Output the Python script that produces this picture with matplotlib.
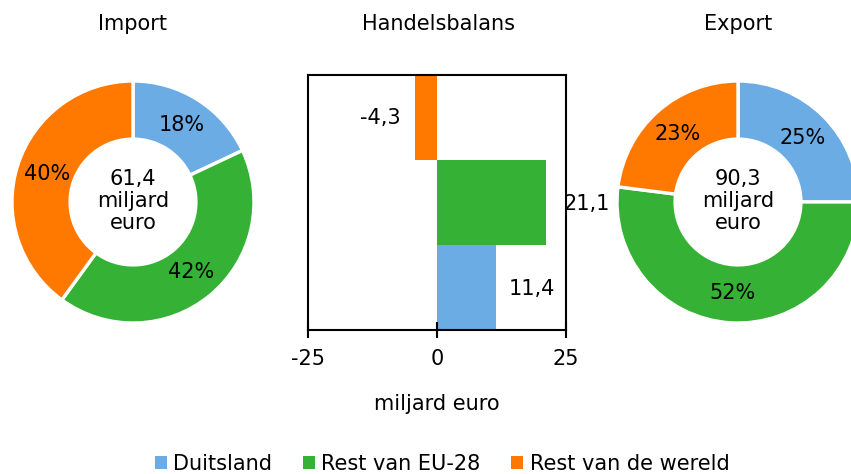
import matplotlib
matplotlib.use("Agg")
import matplotlib.pyplot as plt
from matplotlib.patches import Patch

plt.rcParams['font.family'] = ['DejaVu Sans']

categories = ["Duitsland", "Rest van EU-28", "Rest van de wereld"]
colors = ["#6CACE4", "#35B235", "#FF7800"]

import_shares = [18, 42, 40]
import_total = "61,4"
export_shares = [25, 52, 23]
export_total = "90,3"

balance = [11.4, 21.1, -4.3]   # Duitsland, Rest EU-28, Rest wereld
xticks = [-25, 0, 25]

W, H = 851, 474
fig = plt.figure(figsize=(W / 100, H / 100), dpi=100)
FS = 15


def px_axes(left, top, width, height):
    return fig.add_axes([left / W, 1 - (top + height) / H, width / W, height / H])


def donut(cx, cy, r, shares, total, title):
    ax = px_axes(cx - r, cy - r, 2 * r, 2 * r)
    ax.pie(
        shares, colors=colors, startangle=90, counterclock=False, radius=1,
        wedgeprops=dict(width=0.48, edgecolor="white", linewidth=2.4),
        autopct=lambda p: f"{p:.0f}%", pctdistance=0.75,
        textprops=dict(fontsize=FS, color="black"))
    ax.set_xlim(-1, 1)
    ax.set_ylim(-1, 1)
    ax.set_axis_off()
    ax.text(0, 0.01, f"{total}\nmiljard\neuro", ha="center", va="center",
            fontsize=FS, linespacing=1.12)
    fig.text(cx / W, 1 - 24 / H, title, ha="center", va="center", fontsize=FS)
    return ax


donut(133, 202, 121, import_shares, import_total, "Import")

# Bar chart
bx = px_axes(308, 75, 258, 255)
ypos = list(range(len(balance)))
bx.barh(ypos, balance, height=1.0, color=colors)
bx.set_xlim(-25, 25)
bx.set_ylim(-0.5, len(balance) - 0.5)
bx.set_yticks([])
bx.set_xticks(xticks)
bx.set_xticklabels([str(t) for t in xticks], fontsize=FS)
bx.tick_params(axis="x", direction="inout", length=12, width=1.5, pad=8)
for s in bx.spines.values():
    s.set_linewidth(1.5)
bx.set_xlabel("miljard euro", fontsize=FS, labelpad=18)
for y, v in zip(ypos, balance):
    lab = f"{v:.1f}".replace(".", ",")
    if v < 0:
        bx.annotate(lab, (v, y), xytext=(-10, 0), textcoords="offset points",
                    ha="right", va="center", fontsize=FS)
    else:
        off = 9.5 if v < 15 else 13
        bx.annotate(lab, (v, y - 0.02), xytext=(off, 0), textcoords="offset points",
                    ha="left", va="center", fontsize=FS, annotation_clip=False,
                    zorder=1)
fig.text(438 / W, 1 - 24 / H, "Handelsbalans", ha="center", va="center", fontsize=FS)

donut(738, 202, 121, export_shares, export_total, "Export")

handles = [Patch(facecolor=c, edgecolor="none") for c in colors]
fig.legend(handles, categories, loc="center", bbox_to_anchor=(442 / W, 1 - 464 / H),
           ncol=3, frameon=False, fontsize=FS, handlelength=0.6, handleheight=0.6,
           handletextpad=0.3, columnspacing=1.45)

fig.savefig("out.png", dpi=100)
